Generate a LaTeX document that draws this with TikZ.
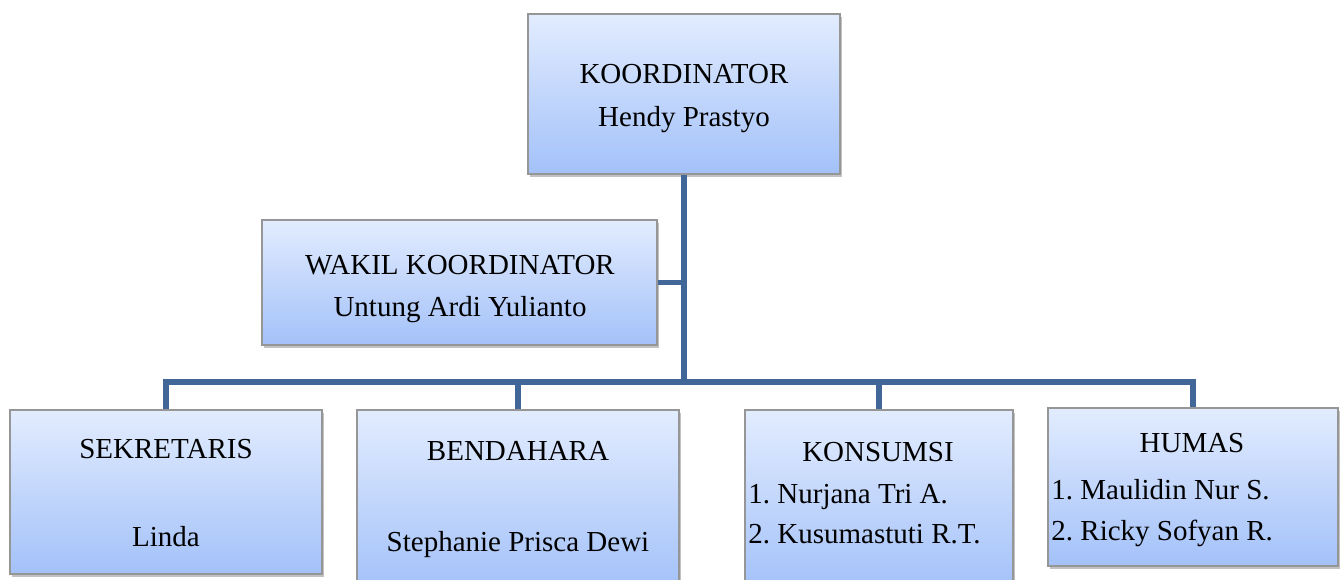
\documentclass[tikz,border=0pt]{standalone}
\usepackage{fontspec}
\setmainfont{Liberation Serif}
\usetikzlibrary{shadows}
\definecolor{boxtop}{RGB}{226,236,254}
\definecolor{boxbot}{RGB}{163,193,249}
\definecolor{boxline}{RGB}{150,150,150}
\definecolor{connc}{RGB}{65,102,152}
\frenchspacing
\begin{document}
\begin{tikzpicture}[x=0.5pt,y=-0.5pt,
  orgbox/.style={draw=boxline, line width=0.6pt, top color=boxtop, bottom color=boxbot,
     inner sep=0pt, rectangle,
     drop shadow={shadow xshift=1pt, shadow yshift=-1.5pt, fill=black!60, opacity=0.4}},
  conn/.style={draw=connc, line width=2.6pt, line join=miter},
  txt/.style={inner sep=0pt, anchor=base, font=\fontsize{14.5pt}{17pt}\selectfont},
  ltxt/.style={txt, anchor=base west}]
\useasboundingbox (0,0) rectangle (1344,579);
% boxes
\node[orgbox, minimum width=156pt, minimum height=80pt] (k) at (684,94) {};
\node[orgbox, minimum width=197.5pt, minimum height=62.5pt] (w) at (459.5,282.5) {};
\node[orgbox, minimum width=156pt, minimum height=82pt] (s) at (166,492) {};
\node[orgbox, minimum width=161pt, minimum height=90pt] (b) at (518,500) {};
\node[orgbox, minimum width=134pt, minimum height=90pt] (ko) at (879,500) {};
\node[orgbox, minimum width=145pt, minimum height=79pt] (h) at (1193,487) {};
% connectors
\coordinate (bar) at (684,382);
\draw[conn] (k.south) -- (k.south |- bar);
\draw[conn] (w.east) -- (w.east -| k.south);
\draw[conn] (s.north) -- (s.north |- bar) -- (h.north |- bar) -- (h.north);
\draw[conn] (b.north) -- (b.north |- bar);
\draw[conn] (ko.north) -- (ko.north |- bar);
% texts
\node[txt] (k1) at (684,83) {KOORDINATOR};
\node[txt] (k2) at (684,126) {Hendy Prastyo};
\node[txt] (w1) at (460,274) {WAKIL KOORDINATOR};
\node[txt] (w2) at (460,316) {Untung Ardi Yulianto};
\node[txt] (s1) at (166,458) {SEKRETARIS};
\node[txt] (s2) at (166,546) {Linda};
\node[txt] (b1) at (518,460) {BENDAHARA};
\node[txt] (b2) at (518,551) {Stephanie Prisca Dewi};
\node[txt] (ko1) at (878,461) {KONSUMSI};
\node[ltxt] (ko2) at (748,503) {1. Nurjana Tri A.};
\node[ltxt] (ko3) at (748,543) {2. Kusumastuti R.T.};
\node[txt] (h1) at (1192,452) {HUMAS};
\node[ltxt] (h2) at (1051,499) {1. Maulidin Nur S.};
\node[ltxt] (h3) at (1051,540) {2. Ricky Sofyan R.};
\end{tikzpicture}
\end{document}
